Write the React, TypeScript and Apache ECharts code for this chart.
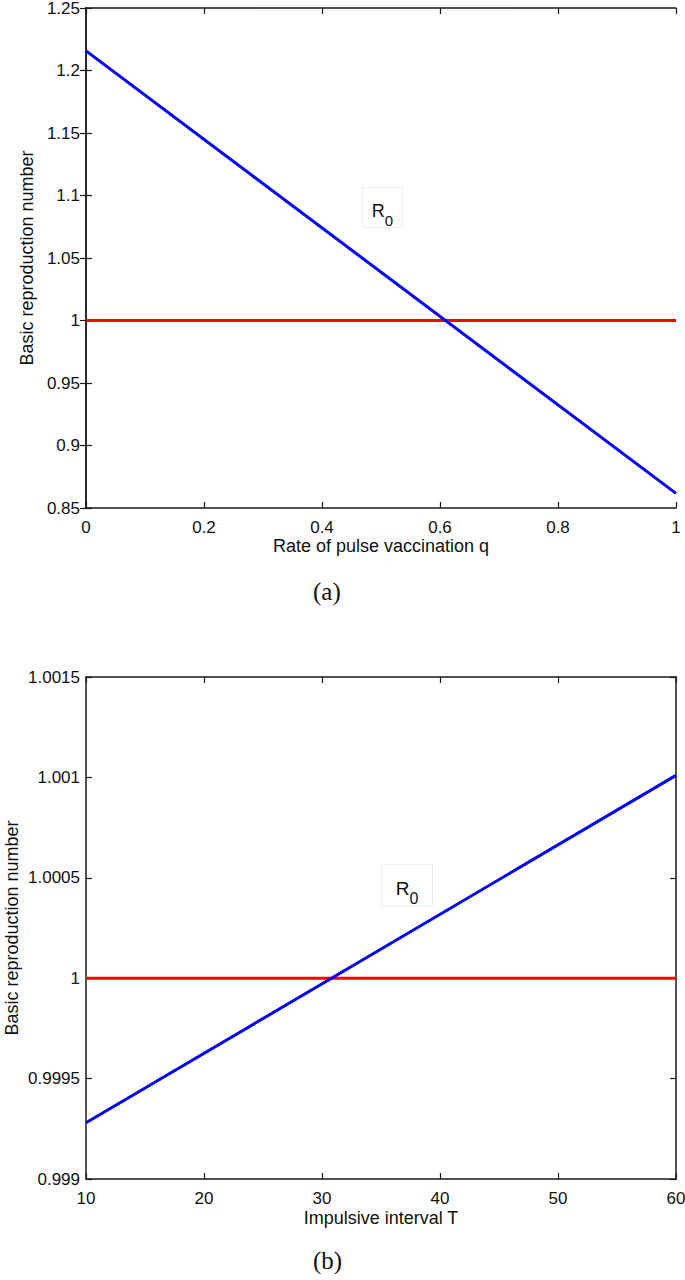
import React, { useEffect, useRef } from "react";
import * as echarts from "echarts";

// Panel (a)
const qValues = [0, 1];
const r0VsQ = [1.2157, 0.8617];
const thresholdA = [1, 1];
const xTicksA = [0, 0.2, 0.4, 0.6, 0.8, 1];
const yTicksA = [0.85, 0.9, 0.95, 1, 1.05, 1.1, 1.15, 1.2, 1.25];

// Panel (b)
const tValues = [10, 60];
const r0VsT = [0.99928, 1.00101];
const thresholdB = [1, 1];
const xTicksB = [10, 20, 30, 40, 50, 60];
const yTicksB = [0.999, 0.9995, 1, 1.0005, 1.001, 1.0015];

const FONT = "Liberation Sans, Arial, Helvetica, sans-serif";

export default function App() {
  const ref = useRef<HTMLDivElement>(null);
  useEffect(() => {
    document.body.style.margin = "0";
    const chart = echarts.init(ref.current!, null, { renderer: "svg" });
    const axisLine = { show: true, lineStyle: { color: "#1a1a1a", width: 1.5 } };
    const tick = { show: true, inside: true, length: 6, lineStyle: { color: "#1a1a1a", width: 1.2 } };
    const lbl = (fmt: (v: number) => string, margin: number) => ({
      show: true,
      color: "#111",
      fontSize: 17,
      fontFamily: FONT,
      margin,
      formatter: (v: number) => fmt(v),
    });
    const noLbl = { show: false };
    const fmtA = (v: number) => String(+v.toFixed(2));
    const fmtB = (v: number) => String(+v.toFixed(4));
    const nameStyle = { color: "#111", fontSize: 18, fontFamily: FONT, lineHeight: 18 };

    const mk = (
      gi: number,
      ticksX: number[],
      ticksY: number[],
      fmtX: (v: number) => string,
      fmtY: (v: number) => string,
      xName: string,
      xGap: number,
      yGap: number
    ) => {
      const xMin = ticksX[0];
      const xMax = ticksX[ticksX.length - 1];
      const xInt = ticksX[1] - ticksX[0];
      const yMin = ticksY[0];
      const yMax = ticksY[ticksY.length - 1];
      const yInt = +(ticksY[1] - ticksY[0]).toFixed(6);
      const xs = [
        {
          type: "value", gridIndex: gi, position: "bottom", min: xMin, max: xMax, interval: xInt,
          axisLine, axisTick: tick, axisLabel: lbl(fmtX, 11), splitLine: { show: false },
          name: xName, nameLocation: "middle", nameGap: xGap, nameTextStyle: nameStyle,
          nameMoveOverlap: false,
        },
        {
          type: "value", gridIndex: gi, position: "top", min: xMin, max: xMax, interval: xInt,
          axisLine, axisTick: tick, axisLabel: noLbl, splitLine: { show: false },
        },
      ];
      const ys = [
        {
          type: "value", gridIndex: gi, position: "left", min: yMin, max: yMax, interval: yInt,
          axisLine, axisTick: tick, axisLabel: lbl(fmtY, 6), splitLine: { show: false },
          name: "Basic reproduction number", nameLocation: "middle", nameGap: yGap,
          nameTextStyle: nameStyle, nameMoveOverlap: false,
        },
        {
          type: "value", gridIndex: gi, position: "right", min: yMin, max: yMax, interval: yInt,
          axisLine, axisTick: tick, axisLabel: noLbl, splitLine: { show: false },
        },
      ];
      return { xs, ys };
    };

    const a = mk(0, xTicksA, yTicksA, fmtA, fmtA, "Rate of pulse vaccination q", 29, 50);
    const b = mk(1, xTicksB, yTicksB, fmtB, fmtB, "Impulsive interval T", 30, 65);

    const line = (xi: number, yi: number, xs: number[], ys: number[], color: string, z: number) => ({
      type: "line",
      xAxisIndex: xi,
      yAxisIndex: yi,
      data: xs.map((x, i) => [x, ys[i]]),
      showSymbol: false,
      symbol: "none",
      lineStyle: { color, width: 3 },
      z,
    });

    const r0Label = (left: number, top: number, w: number, h: number, fs: number) => ({
      type: "group",
      left,
      top,
      children: [
        {
          type: "rect",
          shape: { x: 0, y: 0, width: w, height: h },
          style: { fill: "#fff", stroke: "#eaf0f6", lineWidth: 1 },
        },
        {
          type: "text",
          x: w / 2,
          y: h / 2,
          style: {
            text: "{r|R}{s|0}",
            align: "center",
            verticalAlign: "middle",
            rich: {
              r: { fontSize: fs, fontFamily: FONT, fill: "#111", verticalAlign: "bottom", lineHeight: fs + 6 },
              s: { fontSize: fs - 3, fontFamily: FONT, fill: "#111", verticalAlign: "bottom", lineHeight: fs + 6, padding: [0, 0, -8, 0] },
            },
          },
        },
      ],
    });

    chart.setOption({
      animation: false,
      backgroundColor: "#fff",
      grid: [
        { left: 86, top: 8, width: 590, height: 500, containLabel: false, outerBoundsMode: "none" },
        { left: 86, top: 677, width: 590, height: 502, containLabel: false, outerBoundsMode: "none" },
      ],
      xAxis: [...a.xs, ...b.xs],
      yAxis: [...a.ys, ...b.ys],
      series: [
        line(0, 0, qValues, thresholdA, "#ff0000", 2),
        line(0, 0, qValues, r0VsQ, "#0000ff", 3),
        line(2, 2, tValues, thresholdB, "#ff0000", 2),
        line(2, 2, tValues, r0VsT, "#0000ff", 3),
      ],
      graphic: [
        r0Label(362, 187, 40, 40, 18),
        r0Label(381, 864, 51, 42, 19),
        {
          type: "text",
          left: 313,
          top: 579,
          style: { text: "(a)", fontSize: 25, fontFamily: "Liberation Serif, DejaVu Serif, serif", fill: "#111" },
        },
        {
          type: "text",
          left: 313,
          top: 1248,
          style: { text: "(b)", fontSize: 25, fontFamily: "Liberation Serif, DejaVu Serif, serif", fill: "#111" },
        },
      ],
    });
    return () => chart.dispose();
  }, []);
  return <div ref={ref} style={{ width: 685, height: 1280 }} />;
}
